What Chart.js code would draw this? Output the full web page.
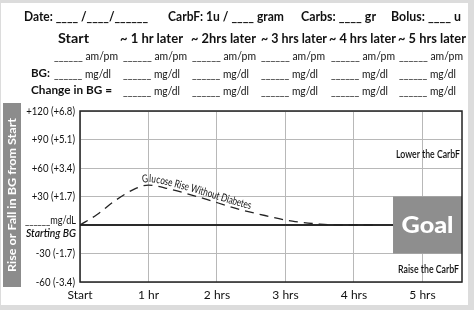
<!DOCTYPE html>
<html><head><meta charset="utf-8">
<script src="https://cdn.jsdelivr.net/npm/chart.js@4"></script>
<style>
html,body{margin:0;padding:0;}
body{width:474px;height:310px;position:relative;overflow:hidden;background:#dcdcdc;font-family:Lato,'Open Sans',sans-serif;color:#111;}
#panel{position:absolute;left:1px;top:3px;width:467px;height:302px;background:#fff;}
canvas{position:absolute;left:0;top:0;}
.t{position:absolute;white-space:pre;line-height:1;transform-origin:0 50%;color:#111;}
</style></head><body>
<div id="panel"></div>
<canvas id="c" width="474" height="310"></canvas>
<script>
// ---- data ----
const xTickValues = [0, 1, 2, 3, 4, 5];
const xTickLabels = ['Start', '1 hr', '2 hrs', '3 hrs', '4 hrs', '5 hrs'];
const yTickValues = [-60, -30, 0, 30, 60, 90, 120];
const yTickLabels = ['-60 (-3.4)', '-30 (-1.7)', '', '+30 (+1.7)', '+60 (+3.4)', '+90 (+5.1)', '+120 (+6.8)'];
const hours  = [0, 0.25, 0.5, 0.8, 1.0, 1.3, 1.8, 2.3, 2.7, 3.1, 3.5, 3.8, 4.3];
const bgRise = [0, 11, 25, 38, 42, 38, 28, 17, 10, 4, 1, 0, 0];
const goalStart = 4.57, goalHigh = 30, goalLow = -30;
const xMax = 5.577;
const curveLabel = 'Glucose Rise Without Diabetes';
const curveLabelStart = 0.92;
const lowerLabel = 'Lower the CarbF', lowerValue = 74;
const raiseLabel = 'Raise the CarbF', raiseValue = -47;
const yTitle = 'Rise or Fall in BG from Start';

const FONT = "Lato, 'Open Sans', sans-serif";

// ---- header text (HTML) ----
function place(text, x, xEnd, cy, font) {
  const d = document.createElement('div');
  d.className = 't'; d.textContent = text; d.style.font = font; d.style.lineHeight = '1';
  d.style.left = x + 'px';
  document.body.appendChild(d);
  const r = d.getBoundingClientRect();
  d.style.top = (cy - r.height / 2) + 'px';
  d.style.transform = 'scaleX(' + ((xEnd - x) / r.width) + ')';
}
const B13 = `bold 13px ${FONT}`, B12 = `bold 12px ${FONT}`, R11 = `11px ${FONT}`;
place('Date: ____ /____/______', 24, 148, 16, B13);
place('CarbF: 1u / ____ gram', 168, 284, 16, B13);
place('Carbs: ____ gr', 301, 376, 16, B13);
place('Bolus: ____ u', 391, 461, 16, B13);
[['Start',58,89],['~ 1 hr later',120,183],['~ 2hrs later',191,256],['~ 3 hrs later',261,327],['~ 4 hrs later',329,396],['~ 5 hrs later',398,466]]
  .forEach(a => place(a[0], a[1], a[2], 38, B13));
const colStarts = [54, 123, 192, 261, 331, 399];
colStarts.forEach(x => place('______ am/pm', x, x + 64, 55, R11));
place('BG:', 31, 50, 73, B12);
colStarts.forEach(x => place('______ mg/dl', x, x + 57, 73, R11));
place('Change in BG =', 31, 112, 90, B12);
colStarts.slice(1).forEach(x => place('______ mg/dl', x, x + 57, 90, R11));

// ---- chart ----
function fitText(ctx, text, x, cy, width, font, align) {
  ctx.save();
  ctx.font = font; ctx.textBaseline = 'middle'; ctx.textAlign = 'left';
  const w = ctx.measureText(text).width;
  const sx = width / w;
  const left = align === 'right' ? x - width : (align === 'center' ? x - width / 2 : x);
  ctx.translate(left, cy); ctx.scale(sx, 1);
  ctx.fillText(text, 0, 0);
  ctx.restore();
}
function scaledText(ctx, text, xRight, cy, sx, font) {
  ctx.save();
  ctx.font = font; ctx.textBaseline = 'middle'; ctx.textAlign = 'right';
  ctx.translate(xRight, cy); ctx.scale(sx, 1);
  ctx.fillText(text, 0, 0);
  ctx.restore();
}

const overlay = {
  id: 'overlay',
  beforeDatasetsDraw(chart) {
    const { ctx, chartArea: a, scales: { x, y } } = chart;
    ctx.save();
    const y0 = y.getPixelForValue(0);
    ctx.strokeStyle = '#2a2a2a'; ctx.lineWidth = 2;
    ctx.beginPath(); ctx.moveTo(a.left, y0); ctx.lineTo(a.right, y0); ctx.stroke();
    const gx = x.getPixelForValue(goalStart), gt = y.getPixelForValue(goalHigh), gb = y.getPixelForValue(goalLow);
    ctx.fillStyle = '#8e8e8e'; ctx.fillRect(gx, gt, a.right - gx, gb - gt);
    ctx.fillStyle = '#fff';
    fitText(ctx, 'Goal', (gx + a.right) / 2, (gt + gb) / 2 + 1, 52, `900 23px ${FONT}`, 'center');
    ctx.restore();
  },
  afterDatasetsDraw(chart) {
    const { ctx, chartArea: a, scales: { x, y } } = chart;
    ctx.save();
    // border
    ctx.strokeStyle = '#222'; ctx.lineWidth = 1.5;
    ctx.strokeRect(a.left, a.top, a.right - a.left, a.bottom - a.top);
    // y tick labels (condensed, from the y scale)
    ctx.fillStyle = '#111';
    yTickValues.forEach((v, i) => {
      if (yTickLabels[i]) scaledText(ctx, yTickLabels[i], a.left - 5, y.getPixelForValue(v), 0.8, `12px ${FONT}`);
    });
    // zone labels
    fitText(ctx, lowerLabel, a.right - 2, y.getPixelForValue(lowerValue), 64, `600 11px ${FONT}`, 'right');
    fitText(ctx, raiseLabel, a.right - 3, y.getPixelForValue(raiseValue), 61, `600 11px ${FONT}`, 'right');
    // zero label
    const y0 = y.getPixelForValue(0);
    fitText(ctx, '______mg/dL', a.left - 4, y0 - 5, 51, `11px ${FONT}`, 'right');
    fitText(ctx, 'Starting BG', a.left - 4, y0 + 8, 50, `italic 600 11px ${FONT}`, 'right');
    // y title box
    ctx.fillStyle = '#8c8c8c'; ctx.fillRect(3, 103, 18, 184);
    ctx.save();
    ctx.translate(12.5, 195); ctx.rotate(-Math.PI / 2);
    ctx.fillStyle = '#fff';
    fitText(ctx, yTitle, 0, 0, 154, `bold 12px ${FONT}`, 'center');
    ctx.restore();
    // curve label along the path
    const P = chart.getDatasetMeta(0).data;
    const poly = [];
    for (let i = 0; i < P.length - 1; i++) {
      const p0 = P[i], p1 = P[i + 1];
      const c1x = p0.cp2x ?? p0.x, c1y = p0.cp2y ?? p0.y, c2x = p1.cp1x ?? p1.x, c2y = p1.cp1y ?? p1.y;
      for (let k = 0; k < 20; k++) {
        const t = k / 20, u = 1 - t;
        poly.push({
          x: u*u*u*p0.x + 3*u*u*t*c1x + 3*u*t*t*c2x + t*t*t*p1.x,
          y: u*u*u*p0.y + 3*u*u*t*c1y + 3*u*t*t*c2y + t*t*t*p1.y
        });
      }
    }
    poly.push({ x: P[P.length - 1].x, y: P[P.length - 1].y });
    const cum = [0];
    for (let i = 1; i < poly.length; i++) cum.push(cum[i - 1] + Math.hypot(poly[i].x - poly[i - 1].x, poly[i].y - poly[i - 1].y));
    const startX = x.getPixelForValue(curveLabelStart);
    const si = poly.findIndex(p => p.x >= startX);
    const s0 = cum[si];
    function at(s) {
      let i = 1; while (i < cum.length - 1 && cum[i] < s) i++;
      const t = (s - cum[i - 1]) / (cum[i] - cum[i - 1] || 1);
      return {
        px: poly[i - 1].x + (poly[i].x - poly[i - 1].x) * t,
        py: poly[i - 1].y + (poly[i].y - poly[i - 1].y) * t,
        ang: Math.atan2(poly[i].y - poly[i - 1].y, poly[i].x - poly[i - 1].x)
      };
    }
    ctx.font = `11px ${FONT}`; ctx.fillStyle = '#111'; ctx.textAlign = 'center'; ctx.textBaseline = 'alphabetic';
    const total = ctx.measureText(curveLabel).width;
    const sx = 110 / total;
    let acc = 0;
    for (const ch of curveLabel) {
      const w = ctx.measureText(ch).width * sx;
      const q = at(s0 + acc + w / 2);
      ctx.save();
      ctx.translate(q.px, q.py); ctx.rotate(q.ang); ctx.translate(0, -3); ctx.scale(sx, 1);
      ctx.fillText(ch, 0, 0);
      ctx.restore();
      acc += w;
    }
    ctx.restore();
  }
};

new Chart(document.getElementById('c'), {
  type: 'scatter',
  data: {
    datasets: [{
      data: hours.map((h, i) => ({ x: h, y: bgRise[i] })),
      showLine: true, pointRadius: 0, borderColor: '#222', borderWidth: 1.3,
      borderDash: [9, 6], tension: 0.4, cubicInterpolationMode: 'monotone', fill: false
    }]
  },
  options: {
    responsive: false, animation: false, devicePixelRatio: 1,
    layout: { padding: { top: 111, right: 12, bottom: 6, left: 0 } },
    plugins: { legend: { display: false }, tooltip: { enabled: false } },
    scales: {
      x: {
        type: 'linear', min: 0, max: xMax,
        afterBuildTicks: s => { s.ticks = xTickValues.map(v => ({ value: v })); },
        afterFit: s => { s.height = 22; },
        ticks: { callback: v => xTickLabels[xTickValues.indexOf(v)], color: '#111', font: { family: FONT, size: 12 }, padding: 6, maxRotation: 0 },
        grid: { color: '#b8b8b8', lineWidth: 1, drawTicks: false },
        border: { display: false }
      },
      y: {
        min: -60, max: 120,
        afterBuildTicks: s => { s.ticks = yTickValues.map(v => ({ value: v })); },
        afterFit: s => { s.width = 80; },
        ticks: { display: false },
        grid: { color: '#b8b8b8', lineWidth: 1, drawTicks: false },
        border: { display: false }
      }
    }
  },
  plugins: [overlay]
});
</script></body></html>
